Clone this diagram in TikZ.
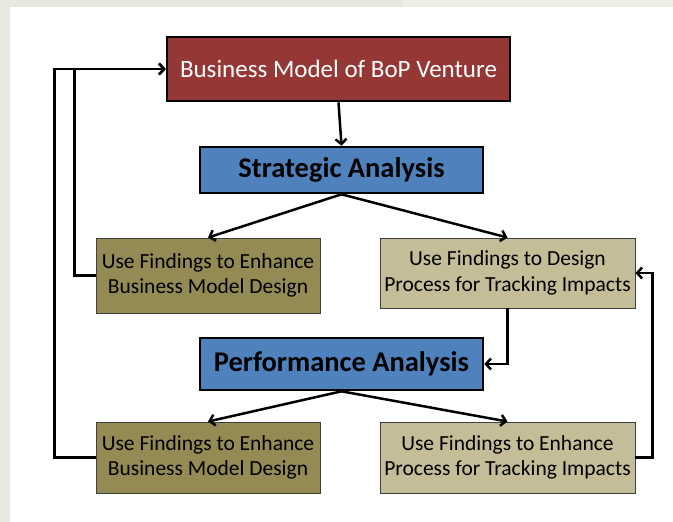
\documentclass[tikz,border=0pt]{standalone}
\usepackage{fontspec}
\setmainfont{Carlito}
\usetikzlibrary{arrows.meta}
\definecolor{bgA}{HTML}{E8E8DE}
\definecolor{bgB}{HTML}{EEEEE6}
\definecolor{bmred}{HTML}{953735}
\definecolor{anblue}{HTML}{4F81BD}
\definecolor{olive}{HTML}{948A54}
\definecolor{sand}{HTML}{C4BD97}
\begin{document}
\begin{tikzpicture}[x=1pt,y=-1pt,
  topbox/.style={draw=black,line width=2.6pt,fill=bmred,text=white,inner sep=0pt,font=\fontsize{25}{28}\selectfont},
  anabox/.style={draw=black,line width=2.6pt,fill=anblue,text=black,inner sep=0pt,font=\bfseries\fontsize{28.5}{32}\selectfont,minimum width=283pt},
  findbox/.style={draw=black!75,line width=0.9pt,inner sep=0pt,align=center,text=black,font=\fontsize{21.5}{25.5}\selectfont},
  arr/.style={line width=2.5pt,-{Straight Barb[length=5pt,width=11pt]}}]
\fill[bgA] (0,0) rectangle (673,522);
\fill[bgB] (403,0) rectangle (673,7);
\fill[white] (10,7) rectangle (673,522);
\useasboundingbox (0,0) rectangle (673,522);
\node[topbox,minimum width=343pt,minimum height=64pt] (BM) at (338.5,69) {Business Model of BoP Venture};
\node[anabox,minimum height=46pt] (SA) at (341.5,170) {Strategic Analysis};
\node[anabox,minimum height=52pt] (PA) at (341.5,364) {Performance Analysis};
\node[findbox,fill=olive,minimum width=224pt,minimum height=75pt] (L1) at (208,275.5) {Use Findings to Enhance\\Business Model Design};
\node[findbox,fill=sand,minimum width=255pt,minimum height=70pt] (R1) at (507.5,273) {Use Findings to Design\\Process for Tracking Impacts};
\node[findbox,fill=olive,minimum width=224pt,minimum height=71pt] (L2) at (208,457.5) {Use Findings to Enhance\\Business Model Design};
\node[findbox,fill=sand,minimum width=255pt,minimum height=71pt] (R2) at (507.5,457.5) {Use Findings to Enhance\\Process for Tracking Impacts};
\draw[arr] (BM.south) -- (SA.north);
\draw[arr] (SA.south) -- (L1.north);
\draw[arr] (SA.south) -- (R1.north);
\draw[arr] (PA.south) -- (L2.north);
\draw[arr] (PA.south) -- (R2.north);
\draw[arr] (L1.west) -- ++(-21,0) |- (BM.west);
\draw[arr] (L2.west) -- ++(-41,0) |- (BM.west);
\draw[arr] (R1.south) |- (PA.east);
\draw[arr] (R2.east) -- ++(17,0) |- (R1.east);
\end{tikzpicture}
\end{document}
